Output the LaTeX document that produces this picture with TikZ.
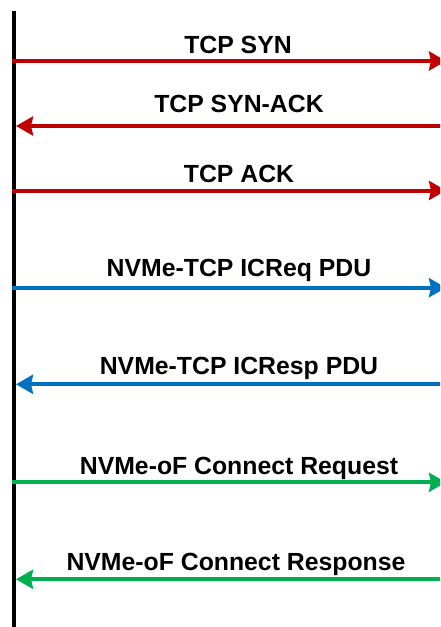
\documentclass[tikz,border=0pt]{standalone}
\usepackage{fontspec}
\setmainfont{Liberation Sans}
\usetikzlibrary{arrows.meta}
\definecolor{tcpred}{HTML}{C00000}
\definecolor{nvblue}{HTML}{0070C0}
\definecolor{nvgreen}{HTML}{00B050}
\begin{document}
\begin{tikzpicture}[x=1pt,y=-1pt,
  msg/.style={line width=4pt, -{Stealth[length=17pt,width=19pt,inset=2pt]}},
  lbl/.style={anchor=base, inner sep=0pt, font=\fontsize{24.8}{30}\selectfont\bfseries}]
\useasboundingbox (0,0) rectangle (440,627);
\clip (0,0) rectangle (440,627);
\fill[white] (0,0) rectangle (440,627);
% lifeline
\coordinate (top) at (14,11);
\coordinate (bot) at (14,630);
\draw[line width=4.5pt] (top) -- (bot);
% end points
\foreach \n/\y in {1/61,2/126,3/190.5,4/287.7,5/384.3,6/482.3,7/579.3}{
  \coordinate (L\n) at (12,\y);
  \coordinate (T\n) at (16,\y);
  \coordinate (R\n) at (446,\y);
}
% messages
\draw[msg, tcpred] (L1) -- (R1);
\draw[msg, tcpred] (R2) -- (T2);
\draw[msg, tcpred] (L3) -- (R3);
\draw[msg, nvblue] (L4) -- (R4);
\draw[msg, nvblue] (R5) -- (T5);
\draw[msg, nvgreen] (L6) -- (R6);
\draw[msg, nvgreen] (R7) -- (T7);
% labels
\node[lbl] (m1) at (238,53.3) {TCP SYN};
\node[lbl] (m2) at (239,112.7) {TCP SYN-ACK};
\node[lbl] (m3) at (239,182.7) {TCP ACK};
\node[lbl] (m4) at (239,276.7) {NVMe-TCP ICReq PDU};
\node[lbl] (m5) at (239,374) {NVMe-TCP ICResp PDU};
\node[lbl] (m6) at (239,474) {NVMe-oF Connect Request};
\node[lbl] (m7) at (236,570.7) {NVMe-oF Connect Response};
\end{tikzpicture}
\end{document}
